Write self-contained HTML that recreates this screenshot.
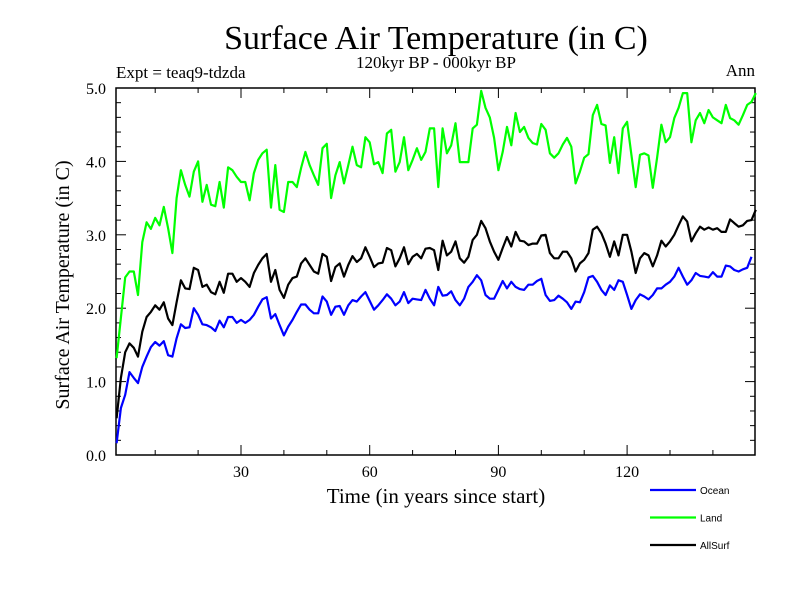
<!DOCTYPE html>
<html><head><meta charset="utf-8"><style>
body{margin:0;background:#fff}
svg{display:block}
text{font-family:"Liberation Serif",serif;fill:#000}
</style></head><body>
<svg id="chart" width="800" height="600" xmlns="http://www.w3.org/2000/svg">
<rect width="800" height="600" fill="#fff"/>
<text x="436" y="49" font-size="34" text-anchor="middle">Surface Air Temperature (in C)</text>
<text x="436" y="68" font-size="17" text-anchor="middle">120kyr BP - 000kyr BP</text>
<text x="116" y="78" font-size="17">Expt = teaq9-tdzda</text>
<text x="755" y="76" font-size="17" text-anchor="end">Ann</text>
<text transform="translate(69,285) rotate(-90)" font-size="20" text-anchor="middle">Surface Air Temperature (in C)</text>
<text x="436" y="503" font-size="21" text-anchor="middle">Time (in years since start)</text>
<g id="axes"></g>
<g id="series"></g>
<g id="legend"></g>
</svg>
<script>
const years = Array.from({length:150},(_,i)=>i+1);
const ocean = [0.16,0.64,0.82,1.13,1.05,0.98,1.2,1.34,1.47,1.54,1.49,1.55,1.36,1.34,1.59,1.78,1.73,1.74,2.0,1.91,1.78,1.77,1.74,1.69,1.83,1.74,1.88,1.88,1.8,1.84,1.8,1.84,1.91,2.02,2.12,2.15,
1.86,1.92,1.77,1.63,1.75,1.84,1.95,2.05,2.05,1.98,1.93,1.93,2.16,2.09,1.91,2.02,2.03,1.91,2.04,2.11,2.09,2.16,2.22,2.10,1.98,2.04,2.11,2.19,2.13,2.04,2.09,2.22,2.07,2.13,2.12,2.11,2.25,2.13,
2.04,2.29,2.17,2.18,2.23,2.11,2.04,2.13,2.29,2.36,2.45,2.38,2.18,2.13,2.13,2.25,2.37,2.27,2.36,2.29,2.26,2.25,2.32,2.32,2.37,2.40,2.18,2.10,2.11,2.17,2.13,2.08,1.99,2.09,2.08,2.22,2.42,2.44,
2.36,2.25,2.18,2.31,2.25,2.38,2.36,2.18,1.99,2.11,2.19,2.16,2.12,2.18,2.27,2.27,2.32,2.36,2.43,2.55,2.43,2.32,2.38,2.48,2.44,2.43,2.42,2.49,2.43,2.43,2.58,2.57,2.52,2.50,2.53,2.55,2.70];
const land = [1.32,1.87,2.42,2.5,2.5,2.18,2.9,3.17,3.08,3.23,3.13,3.38,3.09,2.75,3.5,3.88,3.68,3.52,3.86,4.0,3.45,3.68,3.41,3.39,3.72,3.37,3.92,3.88,3.79,3.72,3.72,3.47,3.84,4.02,4.11,4.16,
3.37,3.95,3.34,3.31,3.72,3.72,3.65,3.91,4.13,3.95,3.81,3.68,4.18,4.24,3.5,3.81,3.99,3.7,3.95,4.2,3.95,3.92,4.33,4.26,3.96,3.99,3.84,4.38,4.43,3.86,3.99,4.33,3.88,4.02,4.18,4.02,4.13,4.45,
4.45,3.65,4.45,4.11,4.22,4.52,3.99,3.99,3.99,4.45,4.5,4.96,4.73,4.6,4.32,3.88,4.13,4.47,4.22,4.66,4.4,4.47,4.32,4.25,4.23,4.51,4.43,4.11,4.05,4.11,4.23,4.32,4.2,3.7,3.86,4.05,4.1,4.63,
4.77,4.51,4.49,3.98,4.33,3.84,4.45,4.54,4.09,3.65,4.09,4.11,4.08,3.64,4.05,4.5,4.26,4.33,4.59,4.73,4.93,4.93,4.26,4.56,4.66,4.52,4.7,4.6,4.56,4.52,4.77,4.59,4.56,4.5,4.63,4.77,4.81,4.93];
const allsurf = [0.5,1.05,1.4,1.52,1.46,1.34,1.68,1.88,1.95,2.04,1.98,2.08,1.86,1.77,2.08,2.38,2.27,2.26,2.55,2.52,2.29,2.32,2.22,2.19,2.36,2.21,2.47,2.47,2.36,2.41,2.36,2.29,2.48,2.59,2.68,2.74,
2.36,2.52,2.25,2.14,2.32,2.41,2.43,2.61,2.68,2.59,2.5,2.47,2.74,2.7,2.37,2.56,2.61,2.43,2.59,2.71,2.63,2.68,2.83,2.7,2.56,2.61,2.62,2.82,2.79,2.57,2.68,2.83,2.6,2.7,2.74,2.68,2.81,2.82,
2.79,2.52,2.92,2.72,2.77,2.91,2.68,2.62,2.70,2.93,3.0,3.19,3.09,2.91,2.77,2.66,2.82,2.97,2.84,3.04,2.92,2.91,2.86,2.88,2.88,2.99,3.0,2.75,2.68,2.68,2.77,2.77,2.68,2.5,2.61,2.66,2.75,3.07,
3.11,3.02,2.88,2.70,2.91,2.72,3.0,3.0,2.77,2.48,2.68,2.75,2.72,2.57,2.72,2.92,2.84,2.91,3.0,3.13,3.25,3.18,2.91,3.02,3.11,3.07,3.10,3.07,3.09,3.04,3.04,3.21,3.16,3.11,3.13,3.19,3.20,3.34];
const yTicks = [0,1,2,3,4,5];
const xTicks = [30,60,90,120];
const seriesNames = ["Ocean","Land","AllSurf"];

const NS="http://www.w3.org/2000/svg";
const L=116,R=755,T=88,B=455;
const xS=v=>112.3+v*4.29;
const yS=v=>B-(v/5)*(B-T);
function mk(tag,attrs,parent){const e=document.createElementNS(NS,tag);for(const k in attrs)e.setAttribute(k,attrs[k]);parent.appendChild(e);return e;}
const axes=document.getElementById('axes');
const frame=mk('rect',{x:L,y:T,width:R-L,height:B-T,fill:'none',stroke:'#000','stroke-width':1.5},axes);


for(let v=0;v<=5.001;v+=0.2){
  const y=yS(v);const major=Math.abs(v-Math.round(v))<0.01;const len=major?10:5;
  const t1=mk('line',{x1:L,x2:L+len,y1:y,y2:y,stroke:'#000','stroke-width':1},axes);
  
  
  const t2=mk('line',{x1:R,x2:R-len,y1:y,y2:y,stroke:'#000','stroke-width':1},axes);
  
  
}
yTicks.forEach(v=>{
  const t=mk('text',{x:L-10,y:yS(v)+6,'font-size':16,'text-anchor':'end'},axes);t.textContent=v.toFixed(1);
  
  
});
for(let v=10;v<150;v+=10){
  const x=xS(v);const major=v%30===0;const len=major?10:5;
  const a=mk('line',{x1:x,x2:x,y1:B,y2:B-len,stroke:'#000','stroke-width':1},axes);
  
  
  const b=mk('line',{x1:x,x2:x,y1:T,y2:T+len,stroke:'#000','stroke-width':1},axes);
  
  
}
xTicks.forEach(v=>{
  const t=mk('text',{x:xS(v),y:B+22,'font-size':16,'text-anchor':'middle'},axes);t.textContent=v;
  
  
});
const ser=document.getElementById('series');
const colors=["#0000ff","#00ff00","#000000"];
[ocean,land,allsurf].forEach((d,i)=>{
  const pts=d.map((v,j)=>xS(years[j]).toFixed(1)+','+yS(v).toFixed(1)).join(' ');
  const p=mk('polyline',{points:pts,fill:'none',stroke:colors[i],'stroke-width':2.2,'stroke-linejoin':'round'},ser);
  
  
});
const leg=document.getElementById('legend');
seriesNames.forEach((n,i)=>{
  const y=490+i*27.5;
  const g=mk('g',{},leg);
  
  
  mk('line',{x1:650,x2:696,y1:y,y2:y,stroke:colors[i],'stroke-width':2.2},g);
  const t=mk('text',{x:700,y:y+4,'font-size':10,style:'font-family:"Liberation Sans",sans-serif'},g);t.textContent=n;
});
</script>
</body></html>
